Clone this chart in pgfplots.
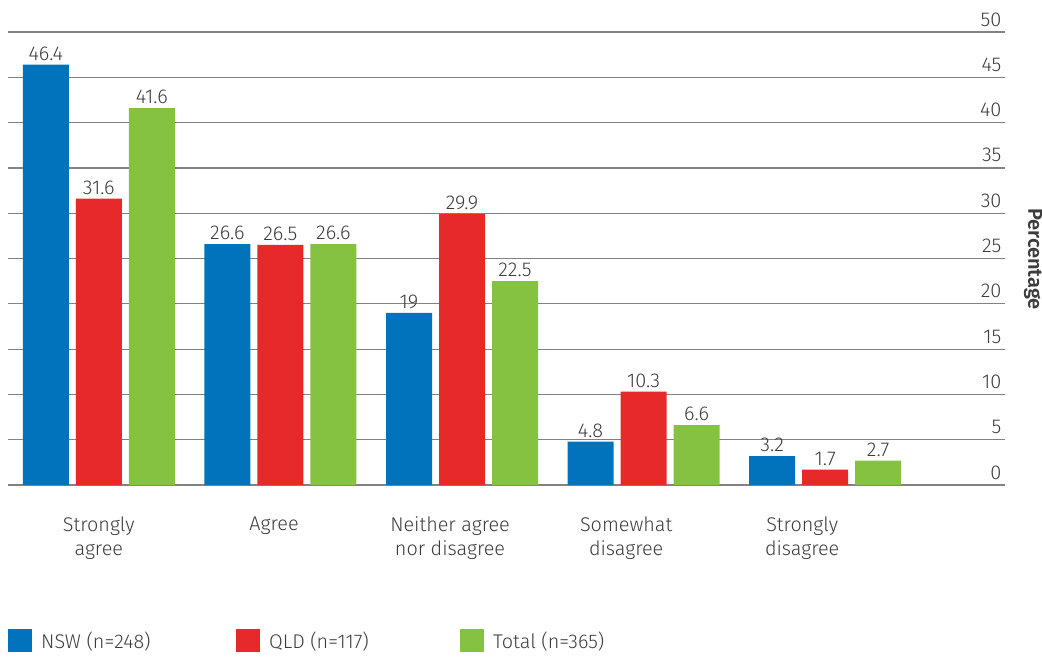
\documentclass[border=0pt]{standalone}
\usepackage{pgfplots}
\pgfplotsset{compat=1.18}
\usepackage{fontspec}
\setmainfont{Fira Sans}[UprightFont=* Light]

\definecolor{nswblue}{RGB}{0,115,188}
\definecolor{qldred}{RGB}{230,42,42}
\definecolor{totgreen}{RGB}{133,194,65}
\definecolor{txt}{RGB}{60,60,60}
\definecolor{gridgray}{RGB}{130,130,130}

\begin{document}
\begin{tikzpicture}
\path[use as bounding box] (0,0) rectangle (1042pt,657pt);
\begin{axis}[
  at={(8pt,172pt)}, anchor=south west,
  scale only axis, width=997pt, height=453pt,
  xmin=-0.5, xmax=4.99, ymin=0, ymax=50,
  ybar=7pt, bar width=46pt,
  % category labels sit on a slightly tighter pitch than the bar groups
  xtick={0,0.965,1.934,2.904,3.873},
  xticklabels={Strongly\\agree, Agree, Neither agree\\nor disagree, Somewhat\\disagree, Strongly\\disagree},
  xticklabel style={align=center, anchor=north, yshift=-24pt,
    font=\fontsize{19.8}{24}\selectfont, text=txt},
  ytick={5,10,...,50},
  extra y ticks={0},
  extra y tick style={grid style={draw=black!75, line width=1.3pt}},
  yticklabel pos=right,
  yticklabel style={anchor=base east, xshift=0pt, yshift=6pt,
    font=\fontsize{20}{24}\selectfont, text=txt},
  /pgf/number format/assume math mode=true,
  ymajorgrids,
  major grid style={draw=gridgray, line width=1.2pt},
  axis line style={draw=none},
  tick style={draw=none},
  nodes near coords,
  every node near coord/.append style={font=\fontsize{20}{24}\selectfont, text=txt, inner sep=4pt},
  legend columns=3,
  legend style={at={(axis description cs:0,-0.37)}, anchor=south west,
    draw=none, fill=none, inner sep=0pt,
    font=\fontsize{19.8}{24}\selectfont, text=txt,
    /tikz/every odd column/.append style={column sep=7pt},
    /tikz/every even column/.append style={column sep=0pt}},
  legend image code/.code={\fill[#1] (0pt,-11.5pt) rectangle (24pt,11.5pt);},
]
\addplot[fill=nswblue, draw=none] coordinates {(0,46.4) (1,26.6) (2,19) (3,4.8) (4,3.2)};
\addplot[fill=qldred, draw=none] coordinates {(0,31.6) (1,26.5) (2,29.9) (3,10.3) (4,1.7)};
\addplot[fill=totgreen, draw=none] coordinates {(0,41.6) (1,26.6) (2,22.5) (3,6.6) (4,2.7)};
\addlegendentry{\makebox[193pt][l]{NSW (n=248)}}
\addlegendentry{\makebox[189pt][l]{QLD (n=117)}}
\addlegendentry{Total (n=365)}
\end{axis}
\node[rotate=-90, font=\fontsize{20}{24}\selectfont\bfseries, text=txt] at (1033pt,398pt) {Percentage};
\end{tikzpicture}
\end{document}
